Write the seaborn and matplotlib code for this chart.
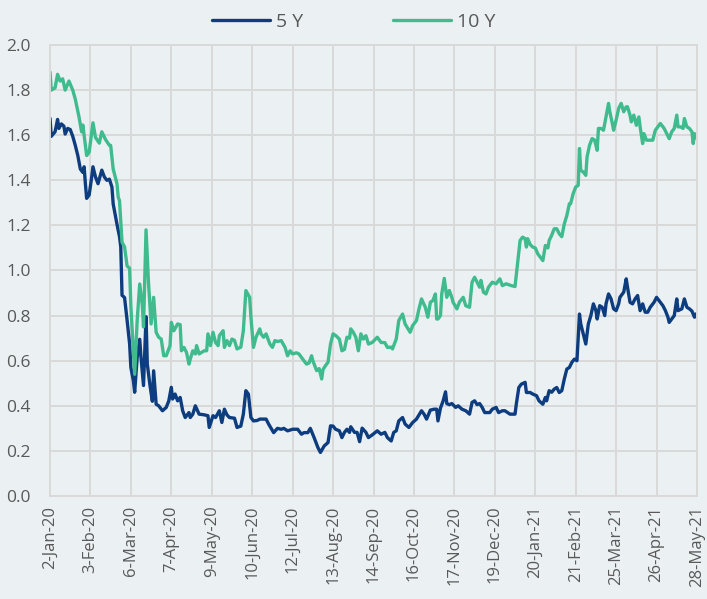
import matplotlib
matplotlib.use("Agg")
import numpy as np
import pandas as pd
import seaborn as sns
from matplotlib import pyplot as plt
from matplotlib.ticker import FixedLocator, MultipleLocator, FormatStrFormatter

# days since 2-Jan-20 and yields
day_5y = [0, 1, 4, 6, 7, 9, 11, 12, 14, 16, 18, 20, 22, 24, 26, 27, 28, 29, 31, 33,
          34, 36, 38, 41, 43, 45, 47, 49, 50, 53, 55, 56, 57, 59, 61, 63, 64, 66, 67, 69,
          71, 72, 74, 76, 77, 79, 81, 82, 84, 86, 89, 92, 94, 96, 97, 99, 101, 103, 105, 107,
          110, 111, 113, 115, 118, 122, 125, 126, 129, 131, 134, 136, 138, 140, 142, 146, 148, 151, 153, 155,
          157, 159, 161, 164, 166, 171, 173, 177, 180, 183, 185, 188, 192, 196, 199, 201, 204, 206, 209, 212,
          214, 217, 220, 222, 224, 226, 229, 231, 233, 235, 237, 238, 241, 243, 245, 247, 250, 252, 255, 259,
          262, 265, 267, 270, 272, 274, 276, 279, 281, 284, 287, 290, 294, 296, 298, 301, 304, 306, 307, 309,
          311, 313, 314, 316, 318, 321, 323, 326, 329, 332, 334, 336, 338, 340, 342, 344, 348, 350, 353, 355,
          358, 360, 364, 368, 369, 371, 373, 376, 377, 380, 382, 385, 387, 390, 392, 393, 395, 397, 399, 401,
          403, 405, 407, 409, 411, 413, 415, 417, 419, 420, 422, 424, 426, 428, 430, 432, 433, 435, 437, 439,
          440, 442, 444, 446, 448, 450, 451, 454, 456, 457, 459, 461, 463, 465, 467, 469, 471, 473, 475, 478,
          480, 483, 485, 487, 489, 490, 493, 494, 496, 497, 500, 502, 504, 506, 508, 510, 511, 512]
val_5y = [1.675, 1.595, 1.615, 1.67, 1.63, 1.65, 1.64, 1.605, 1.63, 1.625, 1.595, 1.555, 1.51, 1.45, 1.435, 1.46, 1.385, 1.32, 1.335, 1.415,
          1.46, 1.415, 1.385, 1.445, 1.415, 1.40, 1.405, 1.37, 1.295, 1.205, 1.15, 1.105, 0.89, 0.88, 0.78, 0.675, 0.57, 0.51, 0.46, 0.615,
          0.695, 0.615, 0.49, 0.795, 0.585, 0.495, 0.42, 0.555, 0.407, 0.40, 0.378, 0.393, 0.422, 0.482, 0.43, 0.452, 0.422, 0.437, 0.378, 0.348,
          0.37, 0.348, 0.363, 0.40, 0.363, 0.36, 0.356, 0.304, 0.356, 0.348, 0.378, 0.326, 0.385, 0.36, 0.348, 0.345, 0.304, 0.31, 0.363, 0.467,
          0.452, 0.348, 0.333, 0.335, 0.341, 0.341, 0.319, 0.281, 0.30, 0.296, 0.30, 0.289, 0.296, 0.296, 0.274, 0.281, 0.281, 0.30, 0.259, 0.215,
          0.193, 0.222, 0.237, 0.311, 0.31, 0.296, 0.289, 0.259, 0.282, 0.296, 0.282, 0.307, 0.282, 0.282, 0.241, 0.301, 0.282, 0.259, 0.271, 0.289,
          0.274, 0.282, 0.259, 0.244, 0.282, 0.289, 0.333, 0.348, 0.319, 0.304, 0.326, 0.341, 0.378, 0.363, 0.341, 0.381, 0.385, 0.385, 0.333, 0.39,
          0.42, 0.462, 0.41, 0.405, 0.41, 0.393, 0.40, 0.385, 0.378, 0.363, 0.415, 0.422, 0.405, 0.41, 0.393, 0.37, 0.37, 0.385, 0.393, 0.37,
          0.378, 0.378, 0.363, 0.363, 0.407, 0.481, 0.496, 0.504, 0.459, 0.459, 0.452, 0.445, 0.422, 0.407, 0.437, 0.422, 0.467, 0.46, 0.474, 0.481,
          0.459, 0.467, 0.519, 0.563, 0.57, 0.593, 0.607, 0.60, 0.807, 0.763, 0.719, 0.674, 0.763, 0.80, 0.852, 0.822, 0.785, 0.844, 0.837, 0.80,
          0.852, 0.896, 0.874, 0.83, 0.822, 0.852, 0.881, 0.904, 0.963, 0.926, 0.859, 0.852, 0.874, 0.889, 0.822, 0.852, 0.815, 0.815, 0.837, 0.859,
          0.881, 0.859, 0.844, 0.822, 0.793, 0.77, 0.793, 0.80, 0.874, 0.822, 0.83, 0.874, 0.837, 0.83, 0.82, 0.793, 0.807, 0.793]

day_10y = [0, 1, 4, 6, 8, 10, 12, 15, 18, 20, 23, 25, 26, 27, 29, 31, 33, 34, 36, 39,
           41, 44, 47, 48, 50, 53, 54, 55, 57, 59, 61, 63, 64, 66, 67, 69, 71, 73, 74, 76,
           78, 80, 82, 84, 86, 88, 90, 92, 95, 96, 98, 101, 103, 104, 106, 108, 110, 111, 113, 115,
           116, 118, 122, 124, 125, 127, 129, 131, 133, 134, 137, 138, 140, 142, 144, 146, 148, 151, 153, 155,
           158, 159, 161, 163, 166, 167, 169, 171, 174, 176, 178, 180, 183, 186, 188, 190, 192, 195, 197, 200,
           203, 205, 207, 208, 211, 213, 215, 216, 218, 220, 222, 224, 226, 229, 231, 233, 235, 237, 238, 240,
           242, 244, 246, 248, 250, 252, 255, 259, 262, 265, 267, 270, 271, 274, 276, 279, 281, 285, 287, 290,
           292, 294, 297, 299, 301, 303, 305, 306, 307, 309, 310, 312, 314, 316, 318, 319, 322, 324, 327, 329,
           332, 334, 336, 338, 340, 341, 343, 345, 347, 350, 353, 356, 358, 361, 365, 368, 370, 372, 374, 376,
           377, 378, 380, 382, 384, 386, 388, 390, 392, 394, 395, 397, 399, 401, 403, 405, 407, 409, 411, 412,
           414, 416, 418, 419, 420, 422, 424, 425, 427, 429, 431, 433, 434, 436, 438, 440, 442, 443, 445, 446,
           448, 450, 452, 454, 456, 457, 459, 460, 462, 464, 466, 467, 469, 470, 472, 475, 477, 479, 481, 483,
           486, 488, 490, 492, 494, 496, 497, 499, 501, 502, 504, 506, 508, 509, 510, 512]
val_10y = [1.88, 1.80, 1.81, 1.87, 1.84, 1.85, 1.80, 1.84, 1.80, 1.76, 1.68, 1.615, 1.645, 1.60, 1.51, 1.525, 1.61, 1.655, 1.59, 1.565,
           1.615, 1.58, 1.555, 1.555, 1.45, 1.385, 1.325, 1.31, 1.125, 1.105, 1.02, 1.01, 0.84, 0.645, 0.54, 0.78, 0.94, 0.85, 0.75, 1.18,
           0.94, 0.763, 0.881, 0.726, 0.704, 0.696, 0.622, 0.622, 0.667, 0.77, 0.733, 0.763, 0.76, 0.644, 0.659, 0.637, 0.585, 0.607, 0.644, 0.63,
           0.667, 0.63, 0.644, 0.644, 0.719, 0.667, 0.726, 0.681, 0.667, 0.711, 0.733, 0.659, 0.689, 0.667, 0.696, 0.69, 0.652, 0.66, 0.733, 0.911,
           0.881, 0.793, 0.659, 0.704, 0.741, 0.719, 0.704, 0.719, 0.674, 0.659, 0.689, 0.685, 0.689, 0.659, 0.622, 0.644, 0.63, 0.635, 0.63, 0.607,
           0.585, 0.59, 0.622, 0.60, 0.556, 0.565, 0.519, 0.56, 0.578, 0.593, 0.674, 0.719, 0.712, 0.696, 0.644, 0.65, 0.704, 0.70, 0.741, 0.726,
           0.704, 0.644, 0.719, 0.696, 0.711, 0.674, 0.681, 0.704, 0.681, 0.68, 0.659, 0.66, 0.652, 0.696, 0.778, 0.807, 0.763, 0.726, 0.756, 0.778,
           0.83, 0.874, 0.837, 0.793, 0.859, 0.867, 0.896, 0.785, 0.785, 0.80, 0.896, 0.965, 0.881, 0.911, 0.88, 0.859, 0.83, 0.86, 0.881, 0.844,
           0.837, 0.948, 0.97, 0.948, 0.926, 0.956, 0.904, 0.896, 0.926, 0.948, 0.941, 0.963, 0.933, 0.941, 0.933, 0.929, 1.03, 1.133, 1.148, 1.141,
           1.104, 1.141, 1.115, 1.104, 1.10, 1.074, 1.059, 1.044, 1.111, 1.10, 1.133, 1.156, 1.185, 1.185, 1.163, 1.15, 1.207, 1.244, 1.296, 1.296,
           1.341, 1.37, 1.378, 1.541, 1.444, 1.437, 1.422, 1.504, 1.556, 1.585, 1.578, 1.533, 1.63, 1.63, 1.622, 1.681, 1.741, 1.704, 1.652, 1.622,
           1.667, 1.719, 1.741, 1.704, 1.726, 1.726, 1.689, 1.659, 1.689, 1.644, 1.681, 1.637, 1.563, 1.607, 1.578, 1.578, 1.578, 1.622, 1.637, 1.652,
           1.63, 1.607, 1.585, 1.615, 1.63, 1.689, 1.637, 1.637, 1.63, 1.674, 1.637, 1.63, 1.615, 1.563, 1.607, 1.585]

series = ["5 Y", "10 Y"]
colors = {"5 Y": "#0d3d7e", "10 Y": "#3fbb8e"}
start = pd.Timestamp("2020-01-02")
end = pd.Timestamp("2021-05-28")

df = pd.concat([
    pd.DataFrame({"date": start + pd.to_timedelta(day_5y, unit="D"), "yield": val_5y, "series": "5 Y"}),
    pd.DataFrame({"date": start + pd.to_timedelta(day_10y, unit="D"), "yield": val_10y, "series": "10 Y"}),
])

bg = "#ebf0f3"
grid = "#d9d9d9"
text = "#595959"

sns.set_theme(style="whitegrid")
plt.rcParams["font.family"] = ["Open Sans", "DejaVu Sans"]

fig = plt.figure(figsize=(7.07, 5.99), dpi=100, facecolor=bg)
ax = fig.add_axes([50 / 707, 1 - 496 / 599, 647 / 707, 451 / 599])
ax.set_facecolor(bg)

sns.lineplot(data=df, x="date", y="yield", hue="series", hue_order=series,
             palette=colors, estimator=None, sort=False, linewidth=2.4, ax=ax)

ax.set_xlim(start, end)
ax.set_ylim(0, 2)
ax.yaxis.set_major_locator(MultipleLocator(0.2))
ax.yaxis.set_major_formatter(FormatStrFormatter("%.1f"))
ticks = pd.date_range(start, end, freq="32D")
ax.xaxis.set_major_locator(FixedLocator(matplotlib.dates.date2num(ticks)))
ax.set_xticklabels([f"{t.day}-{t.strftime('%b-%y')}" for t in ticks], rotation=90)

ax.grid(True, color=grid, linewidth=1.4)
for side in ["left", "bottom", "right", "top"]:
    ax.spines[side].set_color(grid)
    ax.spines[side].set_linewidth(1.4)
ax.tick_params(axis="x", colors=grid, length=4, width=1.2, pad=3, labelcolor=text, labelsize=12)
ax.tick_params(axis="y", length=0, pad=14, labelcolor=text, labelsize=12.5)
ax.set_xlabel("")
ax.set_ylabel("")

handles, labels = ax.get_legend_handles_labels()
ax.get_legend().remove()
fig.legend(handles, labels, loc="upper center", bbox_to_anchor=(0.5, 1.008), ncol=2,
           frameon=False, handlelength=3.0, columnspacing=4.6, handletextpad=0.3,
           fontsize=14, labelcolor=text)

fig.savefig("out.png", dpi=100, facecolor=bg)
